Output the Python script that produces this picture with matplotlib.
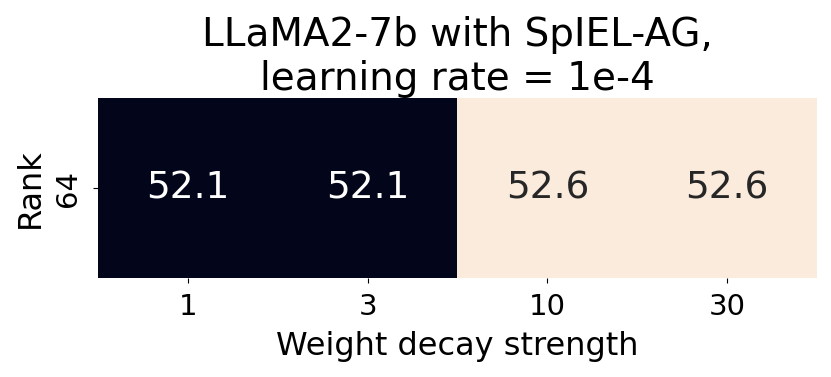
import matplotlib
matplotlib.use("Agg")
import matplotlib.pyplot as plt
import seaborn as sns
import numpy as np

ranks = ["64"]
decays = ["1", "3", "10", "30"]
scores = [[52.1, 52.1, 52.6, 52.6]]

fig, ax = plt.subplots(figsize=(8.31, 3.77), dpi=100)
sns.heatmap(np.array(scores), annot=True, fmt=".1f", cmap="rocket", cbar=False,
            xticklabels=decays, yticklabels=ranks, ax=ax,
            annot_kws={"fontsize": 27})
ax.set_title("LLaMA2-7b with SpIEL-AG,\nlearning rate = 1e-4", fontsize=28, pad=5)
ax.set_xlabel("Weight decay strength", fontsize=23, labelpad=7)
ax.set_ylabel("Rank", fontsize=23, labelpad=6)
ax.tick_params(axis="x", labelsize=21, pad=7)
ax.tick_params(axis="y", labelsize=21, rotation=90, pad=8)
plt.subplots_adjust(left=0.118, right=0.983, top=0.74, bottom=0.262)
fig.savefig("out.png", dpi=100)
